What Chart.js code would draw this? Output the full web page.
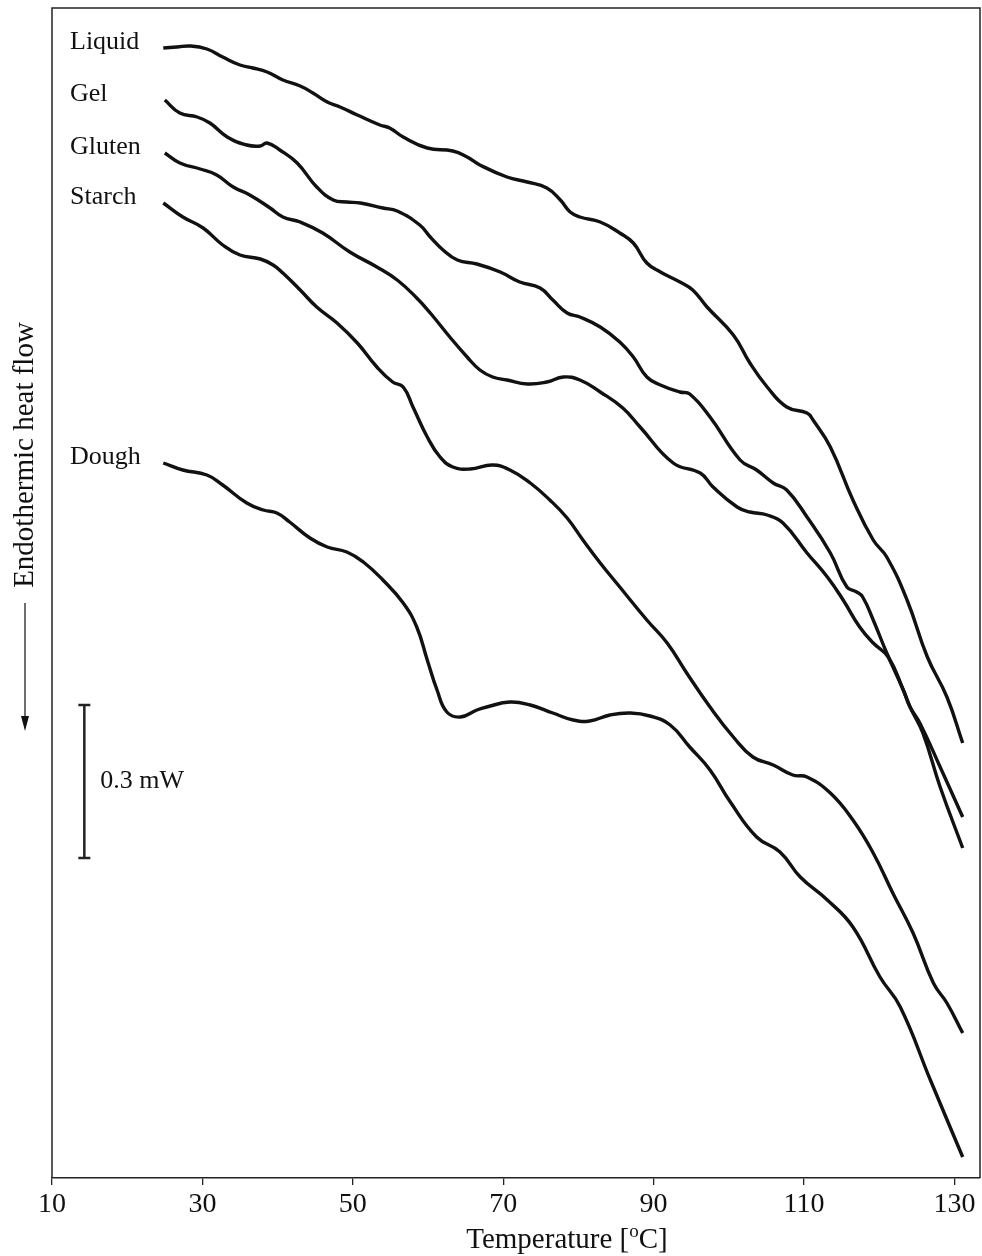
<!DOCTYPE html>
<html>
<head>
<meta charset="utf-8">
<title>DSC thermograms</title>
<script src="https://cdn.jsdelivr.net/npm/chart.js@4.4.1/dist/chart.umd.min.js"></script>
<style>
    html, body { margin: 0; padding: 0; background: #fff; }
    #wrap { width: 982px; height: 1256px; }
</style>
</head>
<body>
<div id="wrap"><canvas id="dscChart" width="982" height="1256"></canvas></div>
<script>
// Temperature [°C] and heat flow (arbitrary units, 153 units = 0.3 mW)
const liquidTemp = [24.8, 26.6, 28.4, 30.6, 32.7, 35.0, 36.7, 38.6, 40.7, 43.0, 44.7, 46.6, 48.3, 50.6, 53.6, 54.9, 56.7, 59.9, 63.3, 65.2, 66.9, 70.5, 73.2, 75.8, 77.6, 78.9, 80.2, 82.9, 85.5, 87.3, 89.1, 90.9, 93.5, 95.2, 97.1, 100.6, 102.8, 105.1, 107.7, 110.4, 111.2, 113.5, 116.5, 119.2, 121.0, 123.7, 126.4, 129.0, 131.1];
const liquidHeat = [1130, 1131, 1132, 1129, 1121, 1113, 1110, 1106, 1098, 1092, 1085, 1076, 1071, 1063, 1053, 1050, 1041, 1030, 1027, 1021, 1013, 1001, 996, 990, 978, 966, 961, 956, 945, 935, 915, 906, 896, 888, 871, 843, 815, 791, 771, 765, 758, 731, 678, 638, 621, 578, 521, 481, 435];

const gelTemp = [25.0, 27.0, 29.3, 31.0, 33.3, 35.9, 37.7, 38.6, 40.3, 42.6, 45.2, 47.4, 49.2, 51.0, 54.0, 55.9, 58.9, 60.3, 62.0, 63.9, 66.5, 69.6, 72.2, 74.9, 76.6, 78.5, 80.2, 82.9, 85.5, 87.3, 89.1, 90.9, 93.5, 94.8, 97.5, 101.5, 103.7, 105.9, 107.7, 110.4, 113.5, 115.7, 117.0, 117.8, 119.2, 121.0, 123.2, 124.1, 125.4, 128.1, 131.1];
const gelHeat = [1078, 1065, 1061, 1055, 1041, 1033, 1032, 1035, 1028, 1015, 991, 978, 976, 975, 970, 967, 953, 941, 928, 918, 914, 906, 896, 890, 878, 865, 861, 851, 836, 821, 801, 793, 786, 784, 761, 718, 708, 695, 688, 661, 625, 591, 586, 581, 558, 525, 488, 471, 455, 411, 361];

const glutenTemp = [25.0, 27.0, 29.7, 31.9, 34.1, 36.3, 39.0, 40.7, 43.0, 46.0, 49.6, 53.2, 55.9, 58.5, 60.3, 62.9, 65.2, 66.9, 68.6, 70.5, 73.2, 75.8, 78.0, 80.2, 82.9, 85.9, 88.2, 92.6, 96.2, 97.9, 101.1, 102.8, 105.1, 107.2, 110.4, 113.1, 115.2, 117.4, 119.2, 121.2, 123.2, 124.1, 125.8, 128.1, 131.1];
const glutenHeat = [1025, 1015, 1009, 1003, 991, 983, 970, 961, 956, 945, 926, 911, 898, 880, 865, 841, 821, 808, 801, 798, 794, 796, 801, 798, 786, 770, 751, 715, 705, 691, 671, 666, 663, 655, 625, 601, 578, 551, 535, 521, 488, 471, 445, 391, 330];

const starchTemp = [24.8, 27.4, 30.1, 32.7, 35.0, 37.7, 39.4, 40.7, 43.0, 45.2, 47.9, 50.6, 53.2, 55.3, 56.7, 58.0, 59.9, 61.6, 63.3, 65.6, 68.6, 70.9, 73.6, 76.2, 78.5, 80.6, 82.9, 85.5, 89.1, 91.8, 94.4, 97.5, 100.6, 103.2, 105.9, 108.5, 110.4, 113.5, 116.5, 119.2, 121.8, 124.5, 127.2, 129.0, 131.1];
const starchHeat = [975, 961, 950, 933, 923, 919, 913, 905, 888, 871, 855, 835, 811, 796, 791, 771, 741, 721, 711, 709, 713, 708, 695, 678, 660, 638, 615, 591, 558, 535, 505, 471, 441, 421, 413, 403, 401, 385, 358, 325, 285, 245, 195, 175, 145];

const doughTemp = [24.8, 27.4, 30.6, 32.7, 35.9, 38.1, 39.9, 41.6, 44.3, 46.6, 49.2, 51.4, 54.0, 56.7, 58.5, 59.9, 61.2, 62.5, 64.3, 66.5, 67.8, 70.9, 73.6, 76.6, 79.3, 81.5, 84.2, 86.9, 89.5, 92.2, 94.8, 97.5, 100.2, 103.7, 106.8, 109.5, 113.1, 116.5, 120.1, 122.8, 126.8, 131.1];
const doughHeat = [715, 708, 703, 693, 675, 668, 665, 656, 640, 631, 626, 616, 598, 575, 551, 518, 488, 466, 461, 468, 471, 476, 473, 465, 458, 457, 463, 465, 462, 453, 431, 408, 376, 341, 326, 301, 278, 251, 201, 171, 98, 21];

const seriesNames = ['Liquid', 'Gel', 'Gluten', 'Starch', 'Dough'];
const tickValues = [10, 30, 50, 70, 90, 110, 130];

// 0.3 mW scale bar: position (temperature, heat flow units) and length
const scaleBarAt = [14.3, 473];
const scaleBarLength = 153;
const scaleBarLabel = '0.3 mW';

const serif = '"Liberation Serif", "Times New Roman", serif';

function toPoints(temps, heats) {
    return temps.map((t, i) => ({ x: t, y: heats[i] }));
}

function makeDataset(label, temps, heats) {
    return {
        label: label,
        data: toPoints(temps, heats),
        borderColor: '#111',
        borderWidth: 3.4,
        pointRadius: 0,
        fill: false,
        tension: 0.45
    };
}

// Frame, curve names, scale bar and axis titles
const annotations = {
    id: 'annotations',
    afterDraw(chart) {
        const { ctx, chartArea: area, scales } = chart;
        const xs = scales.x;
        const ys = scales.y;
        ctx.save();

        // box around the plot (bottom edge is the x axis border)
        ctx.strokeStyle = '#222';
        ctx.lineWidth = 1.5;
        ctx.beginPath();
        ctx.moveTo(area.left, area.bottom);
        ctx.lineTo(area.left, area.top);
        ctx.lineTo(area.right, area.top);
        ctx.lineTo(area.right, area.bottom);
        ctx.stroke();

        // curve names, left of each trace start
        ctx.fillStyle = '#111';
        ctx.font = '26px ' + serif;
        ctx.textAlign = 'left';
        ctx.textBaseline = 'alphabetic';
        chart.data.datasets.forEach(ds => {
            const first = ds.data[0];
            ctx.fillText(ds.label, 70, ys.getPixelForValue(first.y) + 1);
        });

        // scale bar
        const bx = xs.getPixelForValue(scaleBarAt[0]);
        const top = ys.getPixelForValue(scaleBarAt[1]);
        const bottom = ys.getPixelForValue(scaleBarAt[1] - scaleBarLength);
        ctx.lineWidth = 2.5;
        ctx.beginPath();
        ctx.moveTo(bx, top);
        ctx.lineTo(bx, bottom);
        ctx.moveTo(bx - 6, top);
        ctx.lineTo(bx + 6, top);
        ctx.moveTo(bx - 6, bottom);
        ctx.lineTo(bx + 6, bottom);
        ctx.stroke();
        ctx.textBaseline = 'middle';
        ctx.fillText(scaleBarLabel, bx + 16, (top + bottom) / 2);

        // y axis title with downward arrow
        ctx.save();
        ctx.translate(25, 455);
        ctx.rotate(-Math.PI / 2);
        ctx.font = '29px ' + serif;
        ctx.textAlign = 'center';
        ctx.textBaseline = 'middle';
        ctx.fillText('Endothermic heat flow', 0, 0);
        ctx.restore();

        ctx.lineWidth = 1.3;
        ctx.beginPath();
        ctx.moveTo(25, 603);
        ctx.lineTo(25, 722);
        ctx.stroke();
        ctx.beginPath();
        ctx.moveTo(25, 731);
        ctx.lineTo(21, 716);
        ctx.lineTo(29, 716);
        ctx.closePath();
        ctx.fill();

        // x axis title with superscript degree
        ctx.font = '29px ' + serif;
        ctx.textBaseline = 'alphabetic';
        ctx.textAlign = 'left';
        const partA = 'Temperature [';
        const partB = 'C]';
        const wA = ctx.measureText(partA).width;
        const wB = ctx.measureText(partB).width;
        ctx.font = '19px ' + serif;
        const wO = ctx.measureText('o').width;
        let x = 567 - (wA + wO + wB) / 2;
        const base = 1248;
        ctx.font = '29px ' + serif;
        ctx.fillText(partA, x, base);
        x += wA;
        ctx.font = '19px ' + serif;
        ctx.fillText('o', x, base - 11);
        x += wO;
        ctx.font = '29px ' + serif;
        ctx.fillText(partB, x, base);

        ctx.restore();
    }
};

new Chart(document.getElementById('dscChart'), {
    type: 'line',
    data: {
        datasets: [
            makeDataset(seriesNames[0], liquidTemp, liquidHeat),
            makeDataset(seriesNames[1], gelTemp, gelHeat),
            makeDataset(seriesNames[2], glutenTemp, glutenHeat),
            makeDataset(seriesNames[3], starchTemp, starchHeat),
            makeDataset(seriesNames[4], doughTemp, doughHeat)
        ]
    },
    options: {
        responsive: false,
        animation: false,
        devicePixelRatio: 1,
        layout: {
            padding: { left: 52, right: 2, top: 8, bottom: 0 }
        },
        plugins: {
            legend: { display: false },
            tooltip: { enabled: false }
        },
        scales: {
            x: {
                type: 'linear',
                min: 10,
                max: 133.4,
                afterBuildTicks: scale => {
                    scale.ticks = tickValues.map(v => ({ value: v }));
                },
                afterFit: scale => {
                    scale.height = 78;
                },
                grid: {
                    drawOnChartArea: false,
                    drawTicks: true,
                    tickLength: 7,
                    color: '#222',
                    lineWidth: 1.3
                },
                border: {
                    display: true,
                    color: '#222',
                    width: 1.5
                },
                ticks: {
                    color: '#111',
                    padding: 3,
                    maxRotation: 0,
                    autoSkip: false,
                    font: { family: serif, size: 28 }
                }
            },
            y: {
                type: 'linear',
                display: false,
                min: 0,
                max: 1170
            }
        }
    },
    plugins: [annotations]
});
</script>
</body>
</html>
